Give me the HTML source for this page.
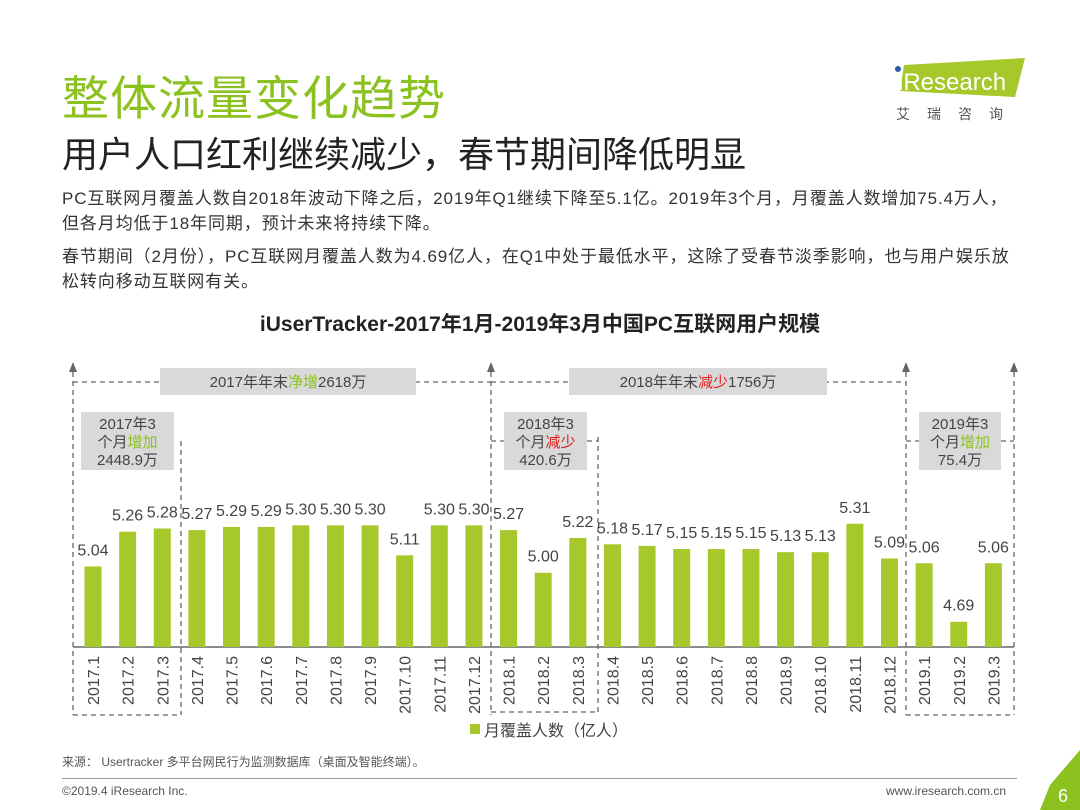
<!DOCTYPE html>
<html><head><meta charset="utf-8">
<style>
body{margin:0;width:1080px;height:810px;background:#fff;position:relative;overflow:hidden;font-family:"Liberation Sans","Noto Sans CJK SC",sans-serif;color:#333}
.a{position:absolute;white-space:nowrap}
</style></head><body>
<div class="a" style="left:62px;top:60px;font-size:47px;color:#8cc21f;letter-spacing:1px">整体流量变化趋势</div>
<div class="a" style="left:62px;top:126px;font-size:36px;color:#222">用户人口红利继续减少，春节期间降低明显</div>
<div class="a" style="left:62px;top:186px;font-size:17px;line-height:25px;color:#333;letter-spacing:0.9px">PC互联网月覆盖人数自2018年波动下降之后，2019年Q1继续下降至5.1亿。2019年3个月，月覆盖人数增加75.4万人，<br>但各月均低于18年同期，预计未来将持续下降。<div style="height:8px"></div>春节期间（2月份），PC互联网月覆盖人数为4.69亿人，在Q1中处于最低水平，这除了受春节淡季影响，也与用户娱乐放<br>松转向移动互联网有关。</div>
<div class="a" style="left:890px;top:55px;width:140px;height:70px">
<svg width="140" height="70"><polygon points="14,10 135,3 125,42 10,36" fill="#a6c82a"/><circle cx="8" cy="14" r="3" fill="#2c5fa0"/><text x="8" y="35" font-size="24" fill="#fff" font-family="Liberation Sans">iResearch</text><text x="6" y="64" font-size="14" fill="#555" font-family="Noto Sans CJK SC" letter-spacing="17">艾瑞咨询</text></svg></div>
<div class="a" style="left:0;width:1080px;text-align:center;top:308px;font-size:21px;font-weight:bold;color:#222">iUserTracker-2017年1月-2019年3月中国PC互联网用户规模</div>
<svg id="chart" class="a" style="left:0;top:0" width="1080" height="810"></svg>
<div class="a" style="left:62px;top:753px;font-size:12px;color:#555">来源： Usertracker 多平台网民行为监测数据库（桌面及智能终端）。</div>
<div class="a" style="left:62px;top:778px;width:955px;height:1px;background:#999"></div>
<div class="a" style="left:62px;top:784px;font-size:12px;color:#555">©2019.4 iResearch Inc.</div>
<div class="a" style="left:886px;top:784px;font-size:12px;color:#555">www.iresearch.com.cn</div>
<svg class="a" style="left:1030px;top:750px" width="50" height="60"><polygon points="50,0 50,60 10,60 20,35" fill="#8cc21f"/><text x="28" y="52" font-size="18" fill="#fff" font-family="Liberation Sans">6</text></svg>
<script>
const categories=["2017.1","2017.2","2017.3","2017.4","2017.5","2017.6","2017.7","2017.8","2017.9","2017.10","2017.11","2017.12","2018.1","2018.2","2018.3","2018.4","2018.5","2018.6","2018.7","2018.8","2018.9","2018.10","2018.11","2018.12","2019.1","2019.2","2019.3"];
const values=[5.04,5.26,5.28,5.27,5.29,5.29,5.30,5.30,5.30,5.11,5.30,5.30,5.27,5.00,5.22,5.18,5.17,5.15,5.15,5.15,5.13,5.13,5.31,5.09,5.06,4.69,5.06];
const valueLabels=["5.04","5.26","5.28","5.27","5.29","5.29","5.30","5.30","5.30","5.11","5.30","5.30","5.27","5.00","5.22","5.18","5.17","5.15","5.15","5.15","5.13","5.13","5.31","5.09","5.06","4.69","5.06"];
const NS="http://www.w3.org/2000/svg";
const svg=document.getElementById('chart');
const base=647,x0=93,step=34.63,bw=17;
function xS(i){return x0+i*step;}
function yS(v){return base-(v-4.53)*158;}
function mk(t,a){const e=document.createElementNS(NS,t);for(const k in a)e.setAttribute(k,a[k]);svg.appendChild(e);return e;}
const G="#a6c82a";
function dline(x1,y1,x2,y2,nm){const l=mk('line',{x1,y1,x2,y2,stroke:'#666','stroke-width':1.3,'stroke-dasharray':'5,4'});

}
[73,491,906,1014].forEach((x,i)=>{dline(x,372,x,715,'period-divider');const p=mk('polygon',{points:`${x-4},372 ${x+4},372 ${x},362`,fill:'#666'});

});
dline(73,382,491,382,'year-2017-bracket');dline(491,382,906,382,'year-2018-bracket');
dline(73,715,181,715,'q1-2017-bracket');dline(181,441,181,715,'q1-2017-bracket');
dline(491,712,598,712,'q1-2018-bracket');dline(598,437,598,712,'q1-2018-bracket');
dline(906,715,1014,715,'q1-2019-bracket');
dline(491,441,505,441,'q1-2018-bracket');dline(587,441,598,441,'q1-2018-bracket');
dline(906,441,919,441,'q1-2019-bracket');dline(1001,441,1014,441,'q1-2019-bracket');
function box(x,y,w,h,nm){const r=mk('rect',{x,y,width:w,height:h,fill:'#d9d9d9'});

}
function txt(x,y,html,size,nm,anchor){const t=mk('text',{x,y,'font-size':size,fill:'#444','text-anchor':anchor||'middle','font-family':'Liberation Sans, Noto Sans CJK SC, sans-serif'});t.innerHTML=html;

return t;}
box(160,368,256,27,'annotation-2017');txt(288,387,'2017年年末<tspan fill="#8cc21f">净增</tspan>2618万',15,'annotation-2017-text');
box(569,368,258,27,'annotation-2018');txt(698,387,'2018年年末<tspan fill="#e02020">减少</tspan>1756万',15,'annotation-2018-text');
[[81,'2017年3','个月<tspan fill="#8cc21f">增加</tspan>','2448.9万','q1-2017'],[504,'2018年3','个月<tspan fill="#e02020">减少</tspan>','420.6万','q1-2018'],[919,'2019年3','个月<tspan fill="#8cc21f">增加</tspan>','75.4万','q1-2019']].forEach(b=>{
const w=b[0]===81?93:(b[0]===504?83:82);box(b[0],412,w,58,b[4]+'-box');const cx=b[0]+w/2;
txt(cx,429,b[1],15,b[4]+'-text');txt(cx,447,b[2],15,b[4]+'-text');txt(cx,465,b[3],15,b[4]+'-text');});
const ax=mk('line',{x1:73,y1:base,x2:1014,y2:base,stroke:'#666','stroke-width':1.5});


values.forEach((v,i)=>{const cx=xS(i);
const r=mk('rect',{x:cx-bw/2,y:yS(v),width:bw,height:base-yS(v),fill:G});


txt(cx,yS(v)-11,valueLabels[i],16,'value-label');
const t=mk('text',{x:0,y:0,'font-size':16,fill:'#444','text-anchor':'end','font-family':'Liberation Sans, sans-serif',transform:`translate(${cx+6},656) rotate(-90)`});t.textContent=categories[i];


});
const lg=mk('rect',{x:470,y:724,width:10,height:10,fill:G});


txt(484,736,'月覆盖人数（亿人）',16,'legend-label','start');
</script>
</body></html>
